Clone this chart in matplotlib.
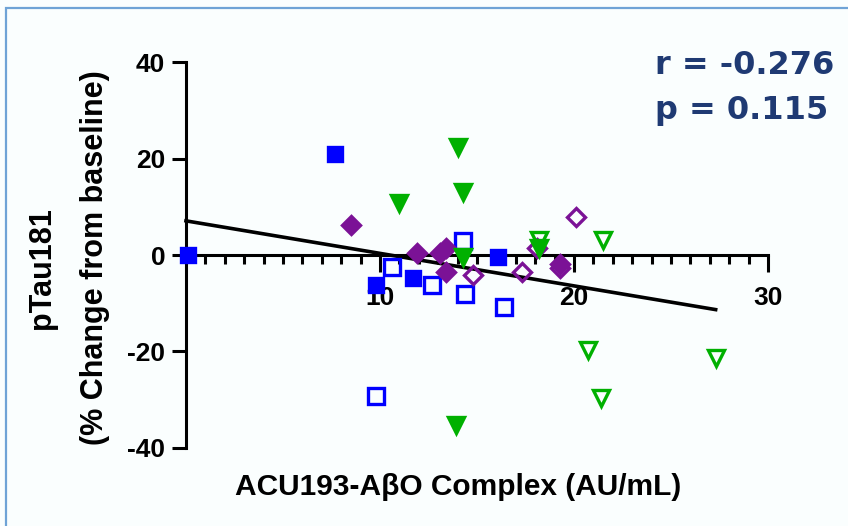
import numpy as np
import matplotlib.pyplot as plt
from matplotlib.patches import Rectangle
from matplotlib.ticker import MultipleLocator

plt.rcParams['font.family'] = ['Liberation Sans', 'DejaVu Sans']
plt.rcParams['axes.unicode_minus'] = False

# ACU193-AbO complex vs pTau181 change, one list pair per group
blue_filled_x = [0.1, 7.7, 9.8, 11.7, 16.1]
blue_filled_y = [0.0, 20.9, -6.3, -4.8, -0.4]
blue_open_x = [9.8, 10.6, 12.7, 14.3, 14.4, 16.4]
blue_open_y = [-29.3, -2.5, -6.2, 2.9, -8.1, -10.8]
purple_filled_x = [8.5, 11.9, 13.1, 13.4, 13.4, 19.3]
purple_filled_y = [6.2, 0.4, 0.4, 1.4, -3.5, -1.9]
purple_open_x = [14.8, 17.3, 18.1, 19.3, 20.1]
purple_open_y = [-4.1, -3.5, 1.5, -2.7, 7.9]
green_filled_x = [11.0, 14.0, 14.3, 14.3, 18.2, 13.9]
green_filled_y = [10.8, 22.4, 13.0, -0.4, 1.4, -35.2]
green_open_x = [18.2, 21.5, 20.7, 21.4, 27.3]
green_open_y = [3.1, 3.1, -19.7, -29.6, -21.4]

x_ticks = [10, 20, 30]
y_ticks = [-40, -20, 0, 20, 40]
stats_text = ['r = -0.276', 'p = 0.115']

BLUE = '#0000FF'
PURPLE = '#7B1296'
GREEN = '#00B000'
NAVY = '#1F3A73'
BG = '#FAFEFE'

fig = plt.figure(figsize=(8.48, 5.26), dpi=100, facecolor=BG)
ax = fig.add_axes([0.2193, 0.1483, 0.6864, 0.7338])
ax.set_facecolor(BG)

# outline of the slide panel (runs off the right and bottom edge)
fig.patches.append(Rectangle((6 / 848, -0.1), 1.2, 1 - 8 / 526 + 0.1,
                             transform=fig.transFigure, fill=False,
                             edgecolor='#6FA3D6', linewidth=1.6))

groups = [
    (blue_filled_x, blue_filled_y, 's', 10.5, BLUE, BLUE),
    (blue_open_x, blue_open_y, 's', 11, 'none', BLUE),
    (purple_filled_x, purple_filled_y, 'D', 8.8, PURPLE, PURPLE),
    (purple_open_x, purple_open_y, 'D', 9.6, 'none', PURPLE),
    (green_filled_x, green_filled_y, 'v', 11.5, GREEN, GREEN),
    (green_open_x, green_open_y, 'v', 12, 'none', GREEN),
]
for gx, gy, m, ms, fc, ec in groups:
    ax.plot(gx, gy, linestyle='none', marker=m, markersize=ms,
            markerfacecolor=fc, markeredgecolor=ec, markeredgewidth=2.4,
            clip_on=False, zorder=3)

# linear fit over all points
all_x = np.concatenate([blue_filled_x, blue_open_x, purple_filled_x,
                        purple_open_x, green_filled_x, green_open_x])
all_y = np.concatenate([blue_filled_y, blue_open_y, purple_filled_y,
                        purple_open_y, green_filled_y, green_open_y])
slope, intercept = np.polyfit(all_x, all_y, 1)
fx = np.array([0, all_x.max()])
ax.plot(fx, intercept + slope * fx, color='black', linewidth=2.6, zorder=2,
        clip_on=False)

ax.set_xlim(0, 30)
ax.set_ylim(-40, 40)
ax.spines['top'].set_visible(False)
ax.spines['right'].set_visible(False)
ax.spines['bottom'].set_position(('data', 0))
for s in ('left', 'bottom'):
    ax.spines[s].set_linewidth(2.2)

ax.set_xticks(x_ticks)
ax.set_yticks(y_ticks)
ax.xaxis.set_minor_locator(MultipleLocator(1))
ax.tick_params(axis='x', which='major', direction='out', length=12, width=2.2,
               pad=10, labelsize=19)
ax.tick_params(axis='x', which='minor', direction='out', length=6.5, width=2.2)
ax.tick_params(axis='y', which='major', direction='out', length=10, width=2.2,
               pad=5, labelsize=19)
for lab in ax.get_xticklabels() + ax.get_yticklabels():
    lab.set_fontweight('bold')

ax.text(0.467, -0.101, 'ACU193-A\u03b2O Complex (AU/mL)', transform=ax.transAxes,
        ha='center', va='center', fontsize=21.5, fontweight='bold')
fig.text(42 / 848, 1 - 268 / 526, 'pTau181', rotation=90, ha='center',
         va='center', fontsize=22, fontweight='bold')
fig.text(95 / 848, 1 - 258 / 526, '(% Change from baseline)', rotation=90,
         ha='center', va='center', fontsize=22, fontweight='bold')

fig.text(655 / 848, 1 - 65 / 526, stats_text[0], ha='left', va='center',
         fontsize=23, fontweight='bold', color=NAVY, family='DejaVu Sans')
fig.text(655 / 848, 1 - 110 / 526, stats_text[1], ha='left', va='center',
         fontsize=23, fontweight='bold', color=NAVY, family='DejaVu Sans')

fig.savefig('out.png', dpi=100, facecolor=BG)
